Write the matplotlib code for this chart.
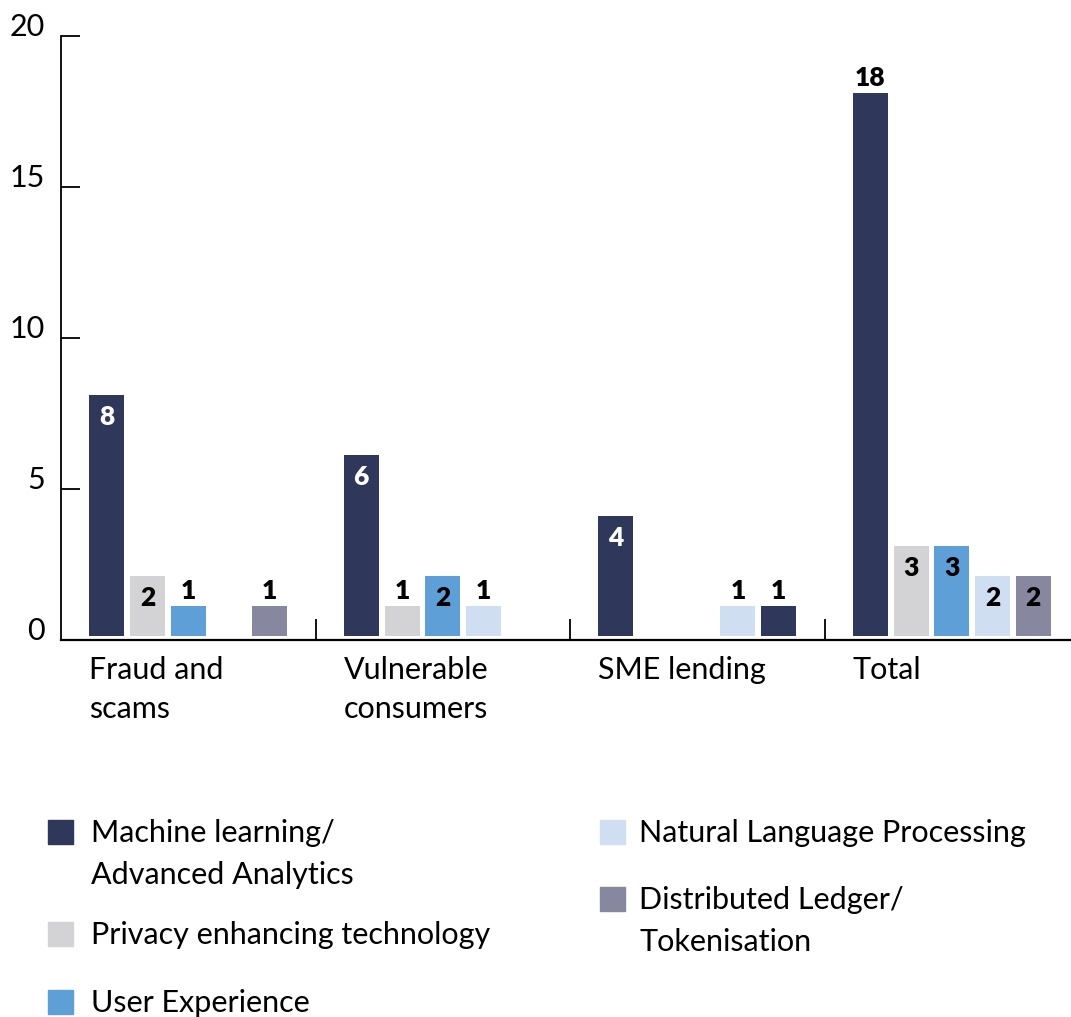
import matplotlib
matplotlib.use("Agg")
import matplotlib.pyplot as plt
from matplotlib.patches import Rectangle
from matplotlib.transforms import blended_transform_factory, offset_copy
import numpy as np

categories = ["Fraud and\nscams", "Vulnerable\nconsumers", "SME lending", "Total"]
series = ["Machine learning/\nAdvanced Analytics", "Privacy enhancing technology",
          "User Experience", "Natural Language Processing", "Distributed Ledger/\nTokenisation"]
ml = [8, 6, 4, 18]
pet = [2, 1, 0, 3]
ux = [1, 2, 0, 3]
nlp = [0, 1, 1, 2]
dlt = [1, 0, 1, 2]
values = [ml, pet, ux, nlp, dlt]
colors = ["#2f375a", "#d3d3d5", "#5f9fd8", "#cfdff1", "#87889f"]
# bar drawn in navy in the original (SME lending, Distributed Ledger slot)
color_override = {(4, 2): "#2f375a"}
yticks = [0, 5, 10, 15, 20]

FONT = "Lato"
FS = 22
W, H = 1071, 1017
fig = plt.figure(figsize=(W / 100, H / 100), dpi=100)
ax = fig.add_axes([61 / W, 1 - 640 / H, (W - 61) / W, (640 - 36) / H])

n = len(series)
pitch = 0.16
bw = 0.1375
x = np.arange(len(categories))
vmax = max(max(v) for v in values)
for s in range(n):
    for c in range(len(categories)):
        v = values[s][c]
        if v <= 0:
            continue
        col = color_override.get((s, c), colors[s])
        xpos = x[c] + (s - (n - 1) / 2) * pitch
        ax.bar(xpos, v, width=bw, color=col, bottom=0.12, zorder=2)
        top = v + 0.12
        outside = v <= 1 or v == vmax
        tcol = "white" if (col == colors[0] and not outside) else "black"
        if outside:
            tr = offset_copy(ax.transData, fig=fig, y=3, units="dots")
            ax.text(xpos, top, str(v), ha="center", va="bottom", color=tcol,
                    fontsize=19, fontweight="heavy", family=FONT, transform=tr)
        else:
            tr = offset_copy(ax.transData, fig=fig, y=-10, units="dots")
            ax.text(xpos, top, str(v), ha="center", va="top", color=tcol,
                    fontsize=19, fontweight="heavy", family=FONT, transform=tr)

ax.set_xlim(-0.5, -0.5 + (W - 61) / 254.5)
ax.set_ylim(0, 20)
ax.set_yticks(yticks)
ax.set_yticklabels([str(t) for t in yticks], family=FONT, fontsize=FS)
for lab in ax.get_yticklabels():
    lab.set_va("baseline")
ax.tick_params(axis="y", direction="in", length=14, width=1.3, pad=11.5, colors="black")
ax.set_xticks([0.5, 1.5, 2.5])
ax.set_xticklabels([])
ax.tick_params(axis="x", direction="in", length=15, width=1.3)
for sp in ["top", "right"]:
    ax.spines[sp].set_visible(False)
ax.spines["left"].set_linewidth(1.3)
ax.spines["bottom"].set_linewidth(1.6)

bt = blended_transform_factory(ax.transData, ax.transAxes)
for c, lab in enumerate(categories):
    tr = offset_copy(bt, fig=fig, y=-16, units="dots")
    ax.text(x[c] - 2 * pitch - bw / 2, 0, lab, ha="left", va="top", family=FONT,
            fontsize=FS, linespacing=1.5, transform=tr)

# legend
legend_pos = [(48, 91, 832), (48, 91, 934), (48, 91, 1002), (600, 639, 832), (600, 639, 899)]
for s, (sx, tx, ty) in enumerate(legend_pos):
    fig.add_artist(Rectangle((sx / W, 1 - (ty + 12) / H), 25 / W, 24 / H,
                             transform=fig.transFigure, color=colors[s]))
    fig.text(tx / W, 1 - (ty - 13) / H, series[s], ha="left", va="top", family=FONT,
             fontsize=FS, linespacing=1.6)

fig.savefig("out.png", dpi=100)
